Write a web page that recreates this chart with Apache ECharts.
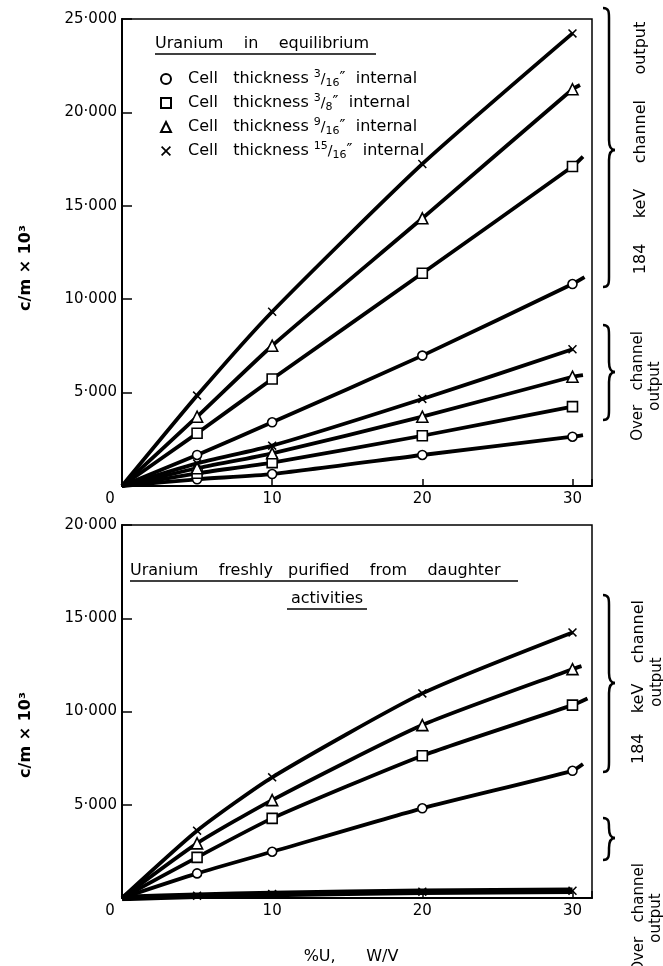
<!DOCTYPE html>
<html><head><meta charset="utf-8">
<script src="https://cdn.jsdelivr.net/npm/echarts@6/dist/echarts.min.js"></script>
<style>html,body{margin:0;padding:0;background:#fff}#c{width:663px;height:966px}</style>
</head><body><div id="c"></div>
<script>
// ---- data ----
const xPoints = [5, 10, 20, 30];
const xTicks = [0, 10, 20, 30];
const topYTicks = [0, 5000, 10000, 15000, 20000, 25000];
const botYTicks = [0, 5000, 10000, 15000, 20000];

// Top chart: Uranium in equilibrium, 184 keV channel output
const top184_circle = [1660, 3410, 6980, 10810];
const top184_square = [2820, 5730, 11390, 17100];
const top184_tri    = [3710, 7510, 14330, 21240];
const top184_cross  = [4840, 9330, 17240, 24230];
// Top chart: over channel output
const topOver_circle = [360, 640, 1660, 2640];
const topOver_square = [680, 1250, 2690, 4250];
const topOver_tri    = [950, 1750, 3710, 5850];
const topOver_cross  = [1210, 2160, 4660, 7320];
// curve end points [x, value]
const top184_end  = {circle:[30.8, 11180], square:[30.7, 17630], tri:[30.5, 21470], cross:null};
const topOver_end = {circle:[30.7, 2730], square:null, tri:[30.7, 5940], cross:null};

// Bottom chart: Uranium freshly purified, 184 keV channel output
const bot184_circle = [1320, 2480, 4810, 6820];
const bot184_square = [2180, 4270, 7630, 10340];
const bot184_tri    = [2930, 5250, 9270, 12270];
const bot184_cross  = [3610, 6470, 10970, 14240];
// Bottom chart: over channel output
const botOver_cross = [125, 215, 340, 390];
const bot184_end  = {circle:[30.7, 7180], square:[31.0, 10700], tri:[30.6, 12430], cross:null};
const botOver_end = null;

const legendNames = ['c3_16', 's3_8', 't9_16', 'x15_16'];
const legendFrac = {c3_16:['3','16'], s3_8:['3','8'], t9_16:['9','16'], x15_16:['15','16']};

// ---- build ----
const FONT = 'DejaVu Sans';
const crossPath = 'path://M0,1.2 L1.2,0 L5,3.8 L8.8,0 L10,1.2 L6.2,5 L10,8.8 L8.8,10 L5,6.2 L1.2,10 L0,8.8 L3.8,5 Z';
const symbols = {circle:'circle', square:'rect', tri:'triangle', cross:crossPath};
const sizes = {circle:9, square:10, tri:11, cross:9};
const names = {circle:'c3_16', square:'s3_8', tri:'t9_16', cross:'x15_16'};

const series = [];
function addSet(vals, end, kind, gi, width) {
  const line = [[0, 0]].concat(xPoints.map((x, i) => [x, vals[i]]));
  if (end) line.push(end);
  series.push({
    type: 'line', name: 'line_' + kind + gi + series.length, xAxisIndex: gi, yAxisIndex: gi,
    data: line, smooth: 0.2, showSymbol: false, symbol: 'none',
    lineStyle: {color: '#000', width: width || 3.8}, z: 2, silent: true
  });
  series.push({
    type: 'scatter', name: names[kind], xAxisIndex: gi, yAxisIndex: gi,
    data: xPoints.map((x, i) => [x, vals[i]]),
    symbol: symbols[kind], symbolSize: sizes[kind],
    itemStyle: kind === 'cross' ? {color: '#000', opacity: 1} : {color: '#fff', borderColor: '#000', borderWidth: 1.6, opacity: 1},
    z: 5, silent: true
  });
}
addSet(top184_circle, top184_end.circle, 'circle', 0);
addSet(top184_square, top184_end.square, 'square', 0);
addSet(top184_tri, top184_end.tri, 'tri', 0);
addSet(top184_cross, top184_end.cross, 'cross', 0);
addSet(topOver_circle, topOver_end.circle, 'circle', 0);
addSet(topOver_square, topOver_end.square, 'square', 0);
addSet(topOver_tri, topOver_end.tri, 'tri', 0);
addSet(topOver_cross, topOver_end.cross, 'cross', 0);
addSet(bot184_circle, bot184_end.circle, 'circle', 1);
addSet(bot184_square, bot184_end.square, 'square', 1);
addSet(bot184_tri, bot184_end.tri, 'tri', 1);
addSet(bot184_cross, bot184_end.cross, 'cross', 1);
addSet(botOver_cross, botOver_end, 'cross', 1, 6.5);

function yFmt(v) { return v === 0 ? '' : (v / 1000) + '·000'; }
function xAx(gi) {
  return {
    type: 'value', gridIndex: gi, min: 0, max: 31.3, interval: 10,
    axisLine: {show: true, onZero: false, lineStyle: {color: '#000', width: 2}},
    axisTick: {show: true, inside: true, length: 7, lineStyle: {color: '#000', width: 1.5}},
    splitLine: {show: false},
    axisLabel: {color: '#000', fontFamily: FONT, fontSize: 15, margin: 6,
      customValues: xTicks,
      formatter: v => v === 0 ? '{z|0}' : String(v),
      rich: {z: {fontFamily: FONT, fontSize: 15, color: '#000', padding: [0, 24, 0, 0]}}}
  };
}
function yAx(gi, max, ticks) {
  return {
    type: 'value', gridIndex: gi, min: 0, max: max, interval: 5000,
    axisLine: {show: true, lineStyle: {color: '#000', width: 2}},
    axisTick: {show: true, inside: true, length: 10, lineStyle: {color: '#000', width: 1.5}},
    splitLine: {show: false},
    axisLabel: {color: '#000', fontFamily: FONT, fontSize: 15, margin: 5, customValues: ticks, formatter: yFmt}
  };
}

// brace helper
function brace(x, y0, y1, ym) {
  const w = 6, t = 12;
  const st = {stroke: '#000', lineWidth: 2.5, fill: null};
  return [
    {type:'bezierCurve', shape:{x1:x, y1:y0, cpx1:x+w, cpy1:y0, cpx2:x+w, cpy2:y0+4, x2:x+w, y2:y0+10}, style:st},
    {type:'line', shape:{x1:x+w, y1:y0+10, x2:x+w, y2:ym-10}, style:st},
    {type:'bezierCurve', shape:{x1:x+w, y1:ym-10, cpx1:x+w, cpy1:ym-3, cpx2:x+w+2, cpy2:ym, x2:x+t, y2:ym}, style:st},
    {type:'bezierCurve', shape:{x1:x+t, y1:ym, cpx1:x+w+2, cpy1:ym, cpx2:x+w, cpy2:ym+3, x2:x+w, y2:ym+10}, style:st},
    {type:'line', shape:{x1:x+w, y1:ym+10, x2:x+w, y2:y1-10}, style:st},
    {type:'bezierCurve', shape:{x1:x+w, y1:y1-10, cpx1:x+w, cpy1:y1-4, cpx2:x+w, cpy2:y1, x2:x, y2:y1}, style:st}
  ];
}
function vtext(x, y, text, size, bold) {
  return {type:'text', x:x, y:y, rotation: Math.PI/2,
    style:{text:text, fill:'#000', font:(bold?'bold ':'') + size + 'px ' + FONT, textAlign:'center', textVerticalAlign:'middle'}};
}
function htext(x, y, text, size, align) {
  return {type:'text', x:x, y:y, style:{text:text, fill:'#000', font:size + 'px ' + FONT, textAlign:align||'left', textVerticalAlign:'middle'}};
}
function uline(x1, x2, y) {
  return {type:'line', shape:{x1:x1, y1:y, x2:x2, y2:y}, style:{stroke:'#000', lineWidth:1.5}};
}

const graphic = [].concat(
  [htext(155, 44, 'Uranium    in    equilibrium', 16), uline(155, 376, 54)],
  [htext(130, 571, 'Uranium    freshly   purified    from    daughter', 16), uline(130, 518, 581),
   htext(327, 599, 'activities', 16, 'center'), uline(287, 367, 609)],
  brace(603, 8, 287, 150), brace(603, 325, 420, 372),
  brace(603, 595, 772, 683), brace(603, 818, 860, 838),
  [vtext(641, 148, '184     keV     channel     output', 16),
   vtext(638, 386, 'Over   channel', 15), vtext(655, 386, 'output', 15),
   vtext(639, 682, '184    keV    channel', 16), vtext(657, 682, 'output', 15),
   vtext(639, 918, 'Over   channel', 15), vtext(656, 918, 'output', 15),
   vtext(26, 268, 'c/m × 10³', 16, true), vtext(26, 735, 'c/m × 10³', 16, true),
   htext(351, 957, '%U,      W/V', 16, 'center')]
);

const option = {
  backgroundColor: '#fff',
  animation: false,
  grid: [
    {left: 122, top: 19, width: 470, height: 467, show: true, borderColor: '#000', borderWidth: 1.5, backgroundColor: 'transparent'},
    {left: 122, top: 525, width: 470, height: 373, show: true, borderColor: '#000', borderWidth: 1.5, backgroundColor: 'transparent'}
  ],
  xAxis: [xAx(0), xAx(1)],
  yAxis: [yAx(0, 25000, topYTicks), yAx(1, 20000, botYTicks)],
  legend: {
    data: legendNames, orient: 'vertical', left: 155, top: 64, itemGap: 4,
    itemWidth: 10, itemHeight: 10, selectedMode: false,
    textStyle: {color: '#000', fontFamily: FONT, fontSize: 16,
      rich: {
        t0: {fontFamily: FONT, fontSize: 16, color: '#000', lineHeight: 20, padding: [0, 0, 0, 12]},
        t: {fontFamily: FONT, fontSize: 16, color: '#000', lineHeight: 20},
        sup: {fontFamily: FONT, fontSize: 11, color: '#000', verticalAlign: 'top', lineHeight: 20},
        sl: {fontFamily: FONT, fontSize: 14, color: '#000', lineHeight: 20},
        sub: {fontFamily: FONT, fontSize: 11, color: '#000', verticalAlign: 'bottom', lineHeight: 20}
      }},
    formatter: n => { const f = legendFrac[n]; return '{t0|Cell   thickness }{sup|' + f[0] + '}{sl|/}{sub|' + f[1] + '}{t|″  internal}'; }
  },
  series: series,
  graphic: graphic
};
const chart = echarts.init(document.getElementById('c'), null, {renderer: 'canvas'});
chart.setOption(option);
</script></body></html>
